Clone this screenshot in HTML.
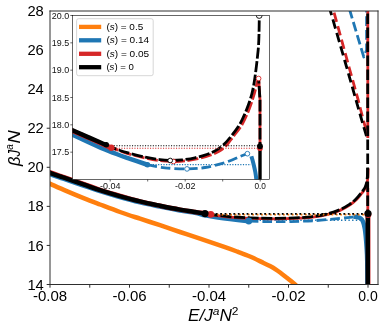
<!DOCTYPE html>
<html><head><meta charset="utf-8"><title>chart</title>
<style>
html,body{margin:0;padding:0;background:#fff;}
body{width:387px;height:332px;overflow:hidden;font-family:"Liberation Sans",sans-serif;}
svg{display:block;will-change:transform;font-family:"Liberation Sans",sans-serif;}
</style></head><body>
<svg width="387" height="332" viewBox="0 0 387 332">
<defs>
<clipPath id="cm"><rect x="50" y="11" width="328" height="273.5"/></clipPath>
<clipPath id="ci"><rect x="72.5" y="15.5" width="197" height="164"/></clipPath>
</defs>
<rect x="0" y="0" width="387" height="332" fill="#fff"/>
<g clip-path="url(#cm)" fill="none" stroke-linecap="butt" stroke-linejoin="round">
<path d="M40.00,179.20 C41.70,179.97 45.85,181.85 50.20,183.80 C54.55,185.75 60.43,188.47 66.10,190.90 C71.77,193.33 78.55,196.13 84.20,198.40 C89.85,200.67 94.03,202.23 100.00,204.50 C105.97,206.77 113.33,209.63 120.00,212.00 C126.67,214.37 133.33,216.50 140.00,218.70 C146.67,220.90 153.33,222.98 160.00,225.20 C166.67,227.42 173.33,229.75 180.00,232.00 C186.67,234.25 192.50,236.17 200.00,238.70 C207.50,241.23 218.75,245.03 225.00,247.20 C231.25,249.37 233.33,250.15 237.50,251.70 C241.67,253.25 245.83,254.72 250.00,256.50 C254.17,258.28 259.17,260.80 262.50,262.40 C265.83,264.00 267.82,264.95 270.00,266.10 C272.18,267.25 273.77,268.12 275.60,269.30 C277.43,270.48 279.25,271.88 281.00,273.20 C282.75,274.52 284.43,275.88 286.10,277.20 C287.77,278.52 289.50,279.88 291.00,281.10 C292.50,282.32 293.85,283.43 295.10,284.50 C296.35,285.57 297.93,287.00 298.50,287.50" stroke="#ff7f0e" stroke-width="4.5"/>
<path d="M40.00,170.85 C41.70,171.42 46.87,173.12 50.20,174.25 C53.53,175.38 57.35,176.75 60.00,177.65 C62.65,178.55 62.07,178.27 66.10,179.65 C70.13,181.03 78.55,184.02 84.20,185.95 C89.85,187.88 94.37,189.42 100.00,191.20 C105.63,192.97 111.33,194.73 118.00,196.60 C124.67,198.47 133.00,200.73 140.00,202.40 C147.00,204.07 153.33,205.25 160.00,206.60 C166.67,207.95 174.17,209.45 180.00,210.50 C185.83,211.55 190.83,212.10 195.00,212.90 C199.17,213.70 201.67,214.62 205.00,215.30 C208.33,215.98 210.83,216.38 215.00,217.00 C219.17,217.62 224.38,218.30 230.00,219.00 C235.62,219.70 245.58,220.83 248.70,221.20" stroke="#1f77b4" stroke-width="4.5"/>
<path d="M248.70,221.20 C252.25,221.27 263.05,221.53 270.00,221.60 C276.95,221.67 282.90,221.77 290.40,221.60 C297.90,221.43 306.73,221.13 315.00,220.60 C323.27,220.07 333.43,219.03 340.00,218.40 C346.57,217.77 352.00,217.07 354.40,216.80" stroke="#1f77b4" stroke-width="2.8" stroke-dasharray="9.7 3.9"/>
<path d="M248.5,220.2 H360" stroke="#1f77b4" stroke-width="1.4" stroke-dasharray="1.4 2.3"/>
<path d="M353.50,216.80 C354.08,216.83 355.83,216.75 357.00,217.00 C358.17,217.25 359.50,217.53 360.50,218.30 C361.50,219.07 362.28,219.90 363.00,221.60 C363.72,223.30 364.33,225.93 364.80,228.50 C365.27,231.07 365.50,233.92 365.80,237.00 C366.10,240.08 366.37,243.17 366.60,247.00 C366.83,250.83 367.05,252.83 367.20,260.00 C367.35,267.17 367.45,285.00 367.50,290.00" stroke="#1f77b4" stroke-width="4.5"/>
<path d="M349.4,9 L363.8,57 L366.6,50 L366.6,9" stroke="#1f77b4" stroke-width="2.8" stroke-dasharray="9.7 3.9"/>
<path d="M40.00,169.00 C41.70,169.57 46.87,171.27 50.20,172.40 C53.53,173.53 57.35,174.90 60.00,175.80 C62.65,176.70 62.07,176.42 66.10,177.80 C70.13,179.18 78.55,182.09 84.20,184.10 C89.85,186.11 94.37,187.99 100.00,189.85 C105.63,191.71 111.33,193.32 118.00,195.25 C124.67,197.18 133.00,199.66 140.00,201.40 C147.00,203.14 153.33,204.33 160.00,205.70 C166.67,207.07 174.17,208.55 180.00,209.60 C185.83,210.65 190.83,211.37 195.00,212.00 C199.17,212.63 202.38,213.00 205.00,213.40 C207.62,213.80 209.75,214.23 210.70,214.40" stroke="#d62728" stroke-width="4.5"/>
<path d="M211.30,214.90 C214.32,215.27 222.87,216.53 229.40,217.10 C235.93,217.67 243.23,218.02 250.50,218.30 C257.77,218.58 265.50,218.78 273.00,218.80 C280.50,218.82 288.87,218.68 295.50,218.40 C302.13,218.12 307.23,217.82 312.80,217.10 C318.37,216.38 324.28,215.27 328.90,214.10 C333.52,212.93 336.98,211.63 340.50,210.10 C344.02,208.57 347.33,206.67 350.00,204.90 C352.67,203.13 354.68,201.27 356.50,199.50 C358.32,197.73 359.72,195.73 360.90,194.30 C362.08,192.87 362.80,192.03 363.60,190.90 C364.40,189.77 365.12,188.82 365.70,187.50 C366.28,186.18 366.73,184.83 367.10,183.00 C367.47,181.17 367.72,178.92 367.90,176.50 C368.08,174.08 368.15,169.83 368.20,168.50" stroke="#d62728" stroke-width="2.8"/>
<path d="M332.20,6.00 L333.60,11.00 L349.00,67.00 L357.90,99.00 L362.90,118.50 L367.80,136.00" stroke="#d62728" stroke-width="2.8" stroke-dasharray="9.5 4.5" stroke-dashoffset="7"/>
<path d="M329.00,6.00 L330.40,11.00 L346.30,66.00 L355.40,98.00 L361.00,117.50 L367.00,138.00" stroke="#000" stroke-width="2.8" stroke-dasharray="9.5 4.5"/>
<path d="M367.70,168.00 C367.65,169.33 367.58,173.58 367.40,176.00 C367.22,178.42 366.97,180.67 366.60,182.50 C366.23,184.33 365.78,185.68 365.20,187.00 C364.62,188.32 363.90,189.27 363.10,190.40 C362.30,191.53 361.58,192.37 360.40,193.80 C359.22,195.23 357.82,197.23 356.00,199.00 C354.18,200.77 352.17,202.63 349.50,204.40 C346.83,206.17 343.52,208.07 340.00,209.60 C336.48,211.13 333.02,212.43 328.40,213.60 C323.78,214.77 317.87,215.88 312.30,216.60 C306.73,217.32 301.63,217.62 295.00,217.90 C288.37,218.18 280.00,218.32 272.50,218.30 C265.00,218.28 257.27,218.08 250.00,217.80 C242.73,217.52 235.43,217.17 228.90,216.60 C222.37,216.03 213.82,214.77 210.80,214.40" stroke="#000" stroke-width="2.8" stroke-dasharray="11 2.6"/>
<path d="M367.8,9 V138 M367.8,188 V214" stroke="#d62728" stroke-width="2.8"/>
<path d="M367.7,13.5 V214" stroke="#000" stroke-width="2.8" stroke-dasharray="10.6 3.4"/>
<path d="M368.15,213.5 V290" stroke="#d62728" stroke-width="4.5"/>
<path d="M367.8,213.5 V290" stroke="#000" stroke-width="4.5"/>
<path d="M40.00,169.60 C41.70,170.17 46.87,171.87 50.20,173.00 C53.53,174.13 57.35,175.50 60.00,176.40 C62.65,177.30 62.07,177.02 66.10,178.40 C70.13,179.78 78.55,182.73 84.20,184.70 C89.85,186.67 94.37,188.38 100.00,190.20 C105.63,192.02 111.33,193.73 118.00,195.60 C124.67,197.47 133.00,199.72 140.00,201.40 C147.00,203.08 153.33,204.33 160.00,205.70 C166.67,207.07 174.17,208.55 180.00,209.60 C185.83,210.65 190.83,211.33 195.00,212.00 C199.17,212.67 203.33,213.33 205.00,213.60" stroke="#000" stroke-width="4.5"/>
<path d="M211,214.6 H368" stroke="#ff7f0e" stroke-width="1.6" stroke-dasharray="1.8 2.6" stroke-dashoffset="-1.6"/>
<path d="M207,213.8 H368" stroke="#000" stroke-width="1.8" stroke-dasharray="1.8 2.6"/>
<circle cx="210.8" cy="214.4" r="3.3" fill="#d62728" stroke="none"/>
<circle cx="205" cy="213.6" r="3.6" fill="#000" stroke="none"/>
<circle cx="248.8" cy="221" r="3.4" fill="#1f77b4" stroke="none"/>
<circle cx="368" cy="214.6" r="3.4" fill="#d62728" stroke="none"/>
<circle cx="368" cy="213.5" r="3.6" fill="#000" stroke="none"/>
</g>
<g stroke="#2e2e2e" stroke-width="1" fill="none">
<path d="M50,10.5 V285 M378,10.5 V285 M49.5,11 H378.5 M49.5,284.5 H378.5"/>
<path d="M50.00,284.5 v3.2 M89.75,284.5 v3.2 M129.50,284.5 v3.2 M169.25,284.5 v3.2 M209.00,284.5 v3.2 M248.75,284.5 v3.2 M288.50,284.5 v3.2 M328.25,284.5 v3.2 M368.00,284.5 v3.2 "/>
<path d="M50,284.50 h-3.3 M50,245.43 h-3.3 M50,206.36 h-3.3 M50,167.29 h-3.3 M50,128.22 h-3.3 "/>
</g>
<rect x="72.5" y="15.5" width="197" height="164" fill="#fff"/>
<g clip-path="url(#ci)" fill="none" stroke-linecap="butt" stroke-linejoin="round">
<path d="M55.00,126.30 C58.02,127.75 67.50,132.33 73.10,135.00 C78.70,137.67 83.95,140.15 88.60,142.30 C93.25,144.45 96.35,145.95 101.00,147.90 C105.65,149.85 111.67,152.18 116.50,154.00 C121.33,155.82 125.22,157.13 130.00,158.80 C134.78,160.47 142.28,163.00 145.20,164.00 C148.12,165.00 147.12,164.67 147.50,164.80" stroke="#1f77b4" stroke-width="4.5"/>
<path d="M147.50,164.80 C150.42,165.30 158.42,167.12 165.00,167.80 C171.58,168.48 180.33,168.95 187.00,168.90 C193.67,168.85 198.67,168.57 205.00,167.50 C211.33,166.43 219.17,164.33 225.00,162.50 C230.83,160.67 236.27,157.97 240.00,156.50 C243.73,155.03 246.17,154.17 247.40,153.70" stroke="#1f77b4" stroke-width="2.8" stroke-dasharray="9.7 3.9"/>
<path d="M251.40,156.30 C251.58,156.92 252.07,158.38 252.50,160.00 C252.93,161.62 253.53,164.00 254.00,166.00 C254.47,168.00 254.92,169.83 255.30,172.00 C255.68,174.17 256.02,176.67 256.30,179.00 C256.58,181.33 256.88,184.83 257.00,186.00" stroke="#1f77b4" stroke-width="4"/>
<path d="M147.5,164.6 H251" stroke="#1f77b4" stroke-width="1.2" stroke-dasharray="1.2 1.45"/>
<path d="M55.00,122.90 C58.00,124.27 67.40,128.58 73.00,131.10 C78.60,133.62 83.93,135.93 88.60,138.00 C93.27,140.07 98.03,142.18 101.00,143.50 C103.97,144.82 104.65,145.18 106.40,145.90 C108.15,146.62 110.65,147.48 111.50,147.80" stroke="#d62728" stroke-width="4.5"/>
<path d="M111.80,147.80 C114.35,148.73 121.53,151.70 127.10,153.40 C132.67,155.10 139.77,156.80 145.20,158.00 C150.63,159.20 154.92,160.02 159.70,160.60 C164.48,161.18 169.68,161.45 173.90,161.50 C178.12,161.55 180.98,161.38 185.00,160.90 C189.02,160.42 193.83,159.55 198.00,158.60 C202.17,157.65 206.50,156.43 210.00,155.20 C213.50,153.97 216.42,152.68 219.00,151.20 C221.58,149.72 223.25,148.58 225.50,146.30 C227.75,144.02 229.72,141.18 232.50,137.50 C235.28,133.82 239.38,129.03 242.20,124.20 C245.02,119.37 247.40,113.53 249.40,108.50 C251.40,103.47 252.88,98.42 254.20,94.00 C255.52,89.58 256.57,84.60 257.30,82.00 C258.03,79.40 258.38,79.00 258.60,78.40" stroke="#d62728" stroke-width="2.8" stroke-dasharray="11 2.6" stroke-dashoffset="4"/>
<path d="M106.20,145.00 C107.67,145.60 111.52,147.33 115.00,148.60 C118.48,149.87 122.07,151.18 127.10,152.60 C132.13,154.02 139.77,155.93 145.20,157.10 C150.63,158.27 155.55,159.05 159.70,159.60 C163.85,160.15 166.38,160.35 170.10,160.40 C173.82,160.45 177.85,160.33 182.00,159.90 C186.15,159.47 190.75,158.75 195.00,157.80 C199.25,156.85 204.00,155.43 207.50,154.20 C211.00,152.97 213.43,151.87 216.00,150.40 C218.57,148.93 220.55,147.55 222.90,145.40 C225.25,143.25 227.28,141.03 230.10,137.50 C232.92,133.97 236.98,129.03 239.80,124.20 C242.62,119.37 245.00,113.53 247.00,108.50 C249.00,103.47 250.60,98.37 251.80,94.00 C253.00,89.63 253.52,86.27 254.20,82.30 C254.88,78.33 255.38,74.22 255.90,70.20 C256.42,66.18 256.87,62.22 257.30,58.20 C257.73,54.18 258.22,50.13 258.50,46.10 C258.78,42.07 258.87,38.85 259.00,34.00 C259.13,29.15 259.23,21.33 259.30,17.00 C259.37,12.67 259.38,9.50 259.40,8.00" stroke="#000" stroke-width="2.8" stroke-dasharray="11 2.6"/>
<path d="M258.7,78.4 L260,100 V146" stroke="#d62728" stroke-width="2.8"/>
<path d="M258.7,80 L260,100 V146" stroke="#000" stroke-width="2.8" stroke-dasharray="11.5 2.5" stroke-dashoffset="8"/>
<path d="M260.0,145.4 V185" stroke="#000" stroke-width="3.4"/>
<path d="M55.00,122.30 C58.00,123.67 67.40,127.98 73.00,130.50 C78.60,133.02 83.93,135.35 88.60,137.40 C93.27,139.45 98.03,141.53 101.00,142.80 C103.97,144.07 105.50,144.63 106.40,145.00" stroke="#000" stroke-width="4.5"/>
<path d="M111,148.3 H260" stroke="#d62728" stroke-width="1.1" stroke-dasharray="1.1 1.5"/>
<path d="M106,145.8 H260" stroke="#000" stroke-width="1.1" stroke-dasharray="1.1 1.5"/>
<circle cx="111.3" cy="147.8" r="3.2" fill="#d62728"/>
<circle cx="106.3" cy="144.8" r="2.7" fill="#000"/>
<circle cx="147.5" cy="164.8" r="2.7" fill="#1f77b4"/>
<circle cx="260" cy="148.4" r="2.7" fill="#d62728"/>
<circle cx="260" cy="146.2" r="2.9" fill="#000"/>
<circle cx="173.5" cy="161.5" r="2.35" fill="#fff" stroke="#d62728" stroke-width="0.9"/>
<circle cx="170.2" cy="160.5" r="2.35" fill="#fff" stroke="#000" stroke-width="0.9"/>
<circle cx="187" cy="168.9" r="2.35" fill="#fff" stroke="#1f77b4" stroke-width="0.9"/>
<circle cx="247.4" cy="153.7" r="2.35" fill="#fff" stroke="#1f77b4" stroke-width="0.9"/>
<circle cx="258.6" cy="78.5" r="2.35" fill="#fff" stroke="#d62728" stroke-width="0.9"/>
<circle cx="259.2" cy="15.5" r="2.9" fill="#fff" stroke="#000" stroke-width="0.9"/>
</g>
<g stroke="#000" stroke-width="0.6" fill="none">
<rect x="72.5" y="15.5" width="197" height="164"/>
<path d="M72.50,15.50 h-2.2 M72.50,42.83 h-2.2 M72.50,70.17 h-2.2 M72.50,97.50 h-2.2 M72.50,124.83 h-2.2 M72.50,152.17 h-2.2 M110.20,179.50 v2 M147.70,179.50 v2 M185.20,179.50 v2 M222.70,179.50 v2 M260.20,179.50 v2 "/>
</g>
<rect x="76.6" y="18.7" width="76.6" height="57" rx="2" ry="2" fill="#fff" fill-opacity="0.8" stroke="#ccc" stroke-width="0.8"/>
<path d="M79,26.90 H101.2" stroke="#ff7f0e" stroke-width="4.3" fill="none"/>
<text x="106.4" y="30.00" font-size="9.1" textLength="36.8" lengthAdjust="spacingAndGlyphs" fill="#000">(<tspan font-style="italic">s</tspan>) = 0.5</text>
<path d="M79,40.30 H101.2" stroke="#1f77b4" stroke-width="4.3" fill="none"/>
<text x="106.4" y="43.40" font-size="9.1" textLength="42.7" lengthAdjust="spacingAndGlyphs" fill="#000">(<tspan font-style="italic">s</tspan>) = 0.14</text>
<path d="M79,53.80 H101.2" stroke="#d62728" stroke-width="4.3" fill="none"/>
<text x="106.4" y="56.90" font-size="9.1" textLength="42.7" lengthAdjust="spacingAndGlyphs" fill="#000">(<tspan font-style="italic">s</tspan>) = 0.05</text>
<path d="M79,67.20 H101.2" stroke="#000" stroke-width="4.3" fill="none"/>
<text x="106.4" y="70.30" font-size="9.1" textLength="27.5" lengthAdjust="spacingAndGlyphs" fill="#000">(<tspan font-style="italic">s</tspan>) = 0</text>
<g font-size="8.3" fill="#111">
<text x="69.2" y="18.50" text-anchor="end" textLength="17.4" lengthAdjust="spacingAndGlyphs">20.0</text>
<text x="69.2" y="45.83" text-anchor="end" textLength="17.4" lengthAdjust="spacingAndGlyphs">19.5</text>
<text x="69.2" y="73.17" text-anchor="end" textLength="17.4" lengthAdjust="spacingAndGlyphs">19.0</text>
<text x="69.2" y="100.50" text-anchor="end" textLength="17.4" lengthAdjust="spacingAndGlyphs">18.5</text>
<text x="69.2" y="127.83" text-anchor="end" textLength="17.4" lengthAdjust="spacingAndGlyphs">18.0</text>
<text x="69.2" y="155.17" text-anchor="end" textLength="17.4" lengthAdjust="spacingAndGlyphs">17.5</text>
</g>
<g font-size="8.3" fill="#111" text-anchor="middle">
<text x="110.20" y="189.3" textLength="20.5" lengthAdjust="spacingAndGlyphs">-0.04</text>
<text x="185.20" y="189.3" textLength="20.5" lengthAdjust="spacingAndGlyphs">-0.02</text>
<text x="260.20" y="189.3" textLength="11.5" lengthAdjust="spacingAndGlyphs">0.0</text>
</g>
<g font-size="14.4" fill="#000">
<text x="43.8" y="289.60" text-anchor="end" textLength="16.4" lengthAdjust="spacingAndGlyphs">14</text>
<text x="43.8" y="250.53" text-anchor="end" textLength="16.4" lengthAdjust="spacingAndGlyphs">16</text>
<text x="43.8" y="211.46" text-anchor="end" textLength="16.4" lengthAdjust="spacingAndGlyphs">18</text>
<text x="43.8" y="172.39" text-anchor="end" textLength="16.4" lengthAdjust="spacingAndGlyphs">20</text>
<text x="43.8" y="133.32" text-anchor="end" textLength="16.4" lengthAdjust="spacingAndGlyphs">22</text>
<text x="43.8" y="94.24" text-anchor="end" textLength="16.4" lengthAdjust="spacingAndGlyphs">24</text>
<text x="43.8" y="55.17" text-anchor="end" textLength="16.4" lengthAdjust="spacingAndGlyphs">26</text>
<text x="43.8" y="16.10" text-anchor="end" textLength="16.4" lengthAdjust="spacingAndGlyphs">28</text>
<text x="50.00" y="300.9" text-anchor="middle" textLength="34.2" lengthAdjust="spacingAndGlyphs">-0.08</text>
<text x="129.50" y="300.9" text-anchor="middle" textLength="34.2" lengthAdjust="spacingAndGlyphs">-0.06</text>
<text x="209.00" y="300.9" text-anchor="middle" textLength="34.2" lengthAdjust="spacingAndGlyphs">-0.04</text>
<text x="288.50" y="300.9" text-anchor="middle" textLength="34.2" lengthAdjust="spacingAndGlyphs">-0.02</text>
<text x="368" y="300.9" text-anchor="middle" textLength="19.5" lengthAdjust="spacingAndGlyphs">0.0</text>
</g>
<text x="188" y="321.2" font-size="16" font-style="italic" fill="#000" textLength="50.5" lengthAdjust="spacingAndGlyphs">E/J<tspan font-size="11.2" dy="-6.2">a</tspan><tspan dy="6.2">N</tspan><tspan font-size="11.2" dy="-6.2" font-style="normal">2</tspan></text>
<g transform="translate(19.6,166) rotate(-90)" font-size="16" font-style="italic" fill="#000">
<text x="0" y="0" textLength="9.4" lengthAdjust="spacingAndGlyphs">&#946;</text>
<text x="9.6" y="0" textLength="6.6" lengthAdjust="spacingAndGlyphs">J</text>
<text x="16.2" y="-6.4" font-size="11.2" textLength="5.6" lengthAdjust="spacingAndGlyphs">a</text>
<text x="22.6" y="0" textLength="13.2" lengthAdjust="spacingAndGlyphs">N</text>
</g>
</svg>
</body></html>
